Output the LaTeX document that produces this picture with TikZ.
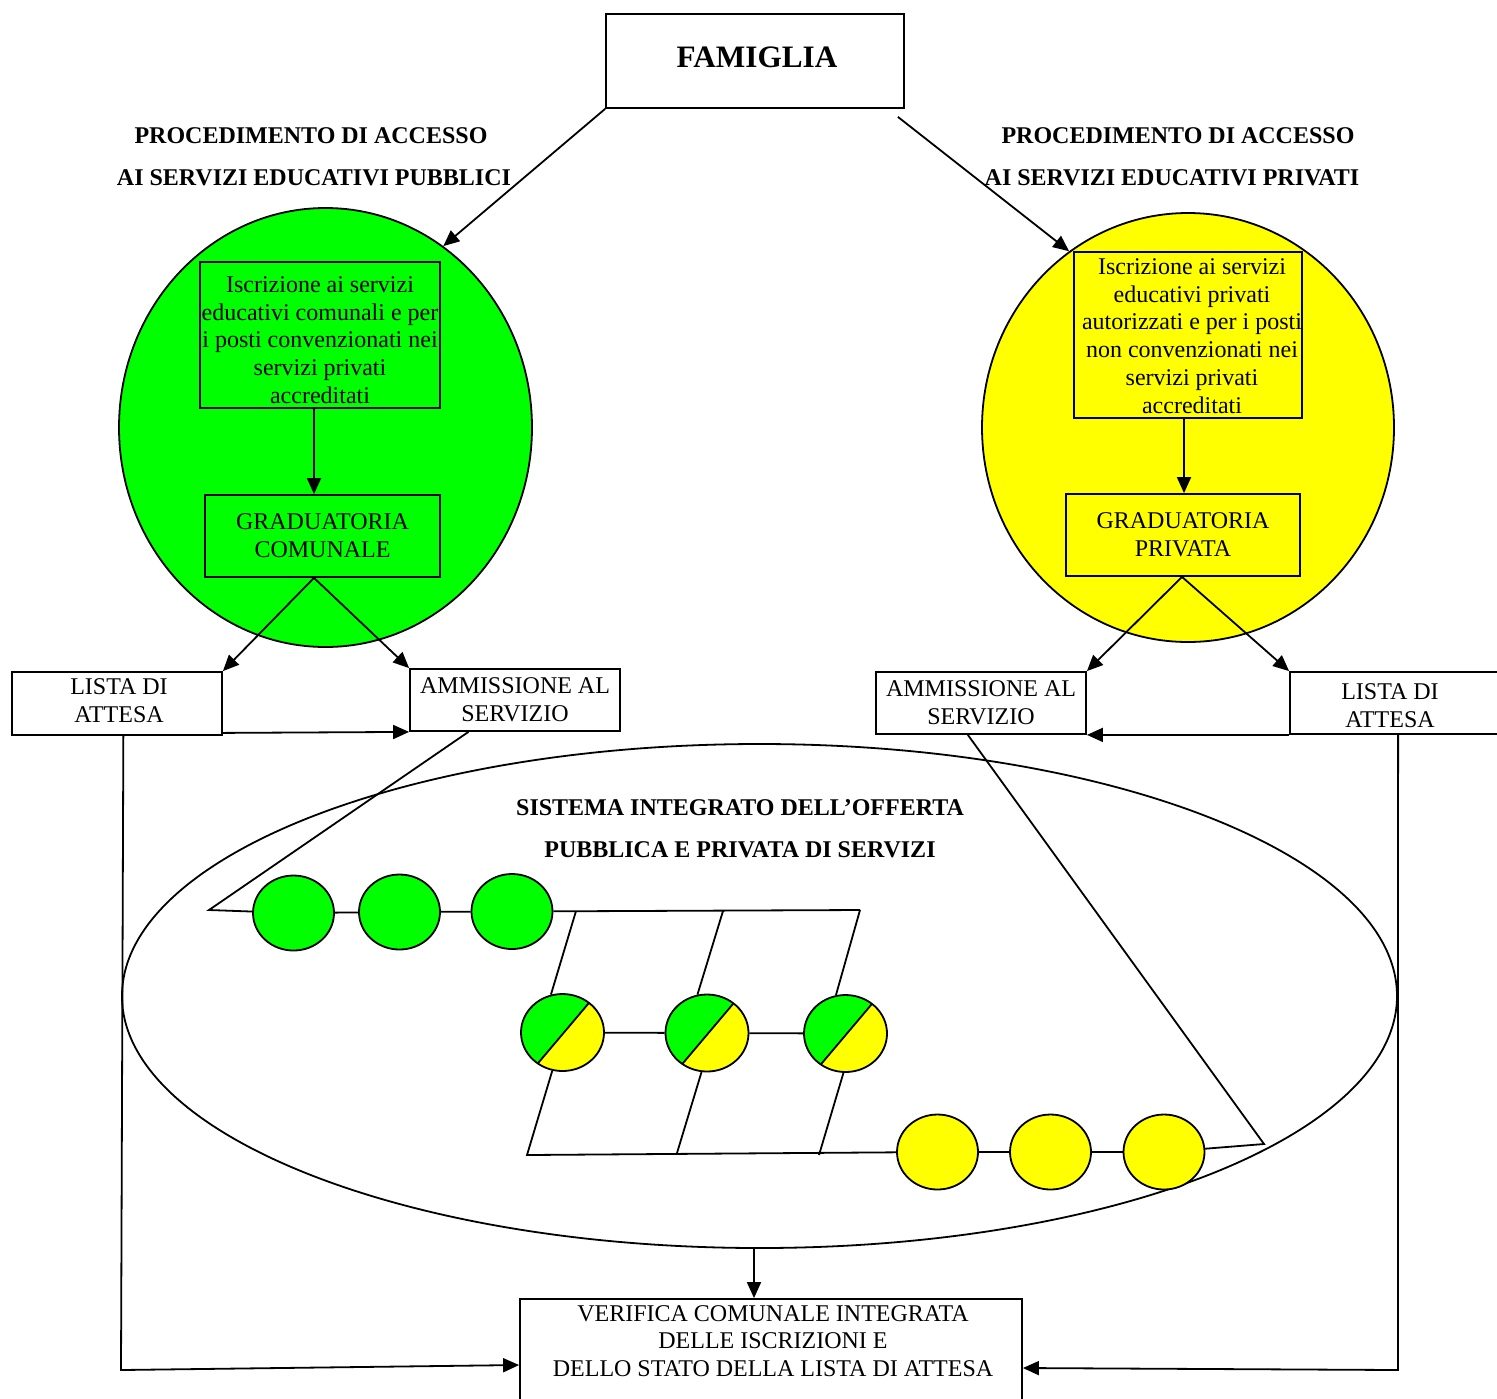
\documentclass[tikz,border=0pt]{standalone}
\usepackage{fontspec}
\setmainfont{Liberation Serif}
\usetikzlibrary{arrows.meta,shapes.geometric,calc}
\definecolor{pgreen}{RGB}{0,255,0}
\definecolor{pyellow}{RGB}{255,255,0}
\begin{document}
\begin{tikzpicture}[x=0.5pt,y=-0.5pt,line width=0.9pt,
  box/.style={draw,rectangle,inner sep=0pt,align=center,font=\fontsize{12pt}{13.9pt}\selectfont},
  txt/.style={inner sep=0pt,align=center,font=\fontsize{12pt}{13.9pt}\selectfont},
  btxt/.style={inner sep=0pt,font=\fontsize{12pt}{14pt}\selectfont\bfseries},
  arr/.style={-{Triangle[length=8pt,width=7pt]}},
  disc/.style={draw,ellipse,inner sep=0pt,minimum width=40.5pt,minimum height=37.5pt},
  bi/.style={draw,ellipse,inner sep=0pt,minimum width=41.5pt,minimum height=38.5pt,fill=pyellow,
    path picture={
      \fill[pgreen] ($(path picture bounding box.center)+(-57.8,70.1)$) -- ($(path picture bounding box.center)+(59.8,-69.1)$) -- ($(path picture bounding box.center)+(-100,-69.1)$) -- ($(path picture bounding box.center)+(-100,70.1)$) -- cycle;
      \draw ($(path picture bounding box.center)+(-57.8,70.1)$) -- ($(path picture bounding box.center)+(59.8,-69.1)$);
    }}]
\useasboundingbox (0,0) rectangle (1497,1398);

% large shapes
\node[draw,ellipse,fill=pgreen,minimum width=206.5pt,minimum height=219.5pt,inner sep=0pt] (gc) at (325.5,427.5) {};
\node[draw,ellipse,fill=pyellow,minimum width=206pt,minimum height=214.5pt,inner sep=0pt] (yc) at (1188,427.5) {};
\node[draw,ellipse,minimum width=637.5pt,minimum height=252pt,inner sep=0pt] (bigE) at (759.5,996) {};

% top
\node[box,minimum width=149pt,minimum height=47pt] (fam) at (755,61) {};
\node[inner sep=0pt,font=\fontsize{15.6pt}{18pt}\selectfont\bfseries] (famt) at (757,57) {FAMIGLIA};
\node[btxt] (hL1) at (311,136) {PROCEDIMENTO DI ACCESSO};
\node[btxt] (hL2) at (314,178) {AI SERVIZI EDUCATIVI PUBBLICI};
\node[btxt] (hR1) at (1178,136) {PROCEDIMENTO DI ACCESSO};
\node[btxt] (hR2) at (1172,178) {AI SERVIZI EDUCATIVI PRIVATI};

% left side
\node[box,fill=pgreen,minimum width=120pt,minimum height=73pt] (gbox1) at (320,335) {};
\node[txt] (gbox1t) at (320,340) {Iscrizione ai servizi\\educativi comunali e per\\i posti convenzionati nei\\servizi privati\\accreditati};
\node[box,fill=pgreen,minimum width=117.5pt,minimum height=41pt] (gbox2) at (322.5,536) {GRADUATORIA\\COMUNALE};
\node[box,minimum width=105pt,minimum height=31.5pt] (listL) at (117,703.5) {};
\node[txt] (listLt) at (119,701) {LISTA DI\\ATTESA};
\node[box,minimum width=105pt,minimum height=31pt] (ammL) at (515,700) {AMMISSIONE AL\\SERVIZIO};

% right side
\node[box,fill=pyellow,minimum width=114pt,minimum height=83pt] (ybox1) at (1188,335) {};
\node[txt] (ybox1t) at (1192,336) {Iscrizione ai servizi\\educativi privati\\autorizzati e per i posti\\non convenzionati nei\\servizi privati\\accreditati};
\node[box,fill=pyellow,minimum width=117pt,minimum height=41pt] (ybox2) at (1183,535) {GRADUATORIA\\PRIVATA};
\node[box,minimum width=105pt,minimum height=31pt] (ammR) at (981,703) {AMMISSIONE AL\\SERVIZIO};
\node[box,minimum width=107pt,minimum height=31pt] (listR) at (1397,703) {};
\node[txt] (listRt) at (1390,706) {LISTA DI\\ATTESA};

% bottom
\node[box,minimum width=251pt,minimum height=55.5pt] (verif) at (771,1354.5) {};
\node[txt] (veriftxt) at (773,1341) {VERIFICA COMUNALE INTEGRATA\\DELLE ISCRIZIONI E\\DELLO STATO DELLA LISTA DI ATTESA};

% system title
\node[btxt] (s1) at (740,808) {SISTEMA INTEGRATO DELL’OFFERTA};
\node[btxt] (s2) at (740,850) {PUBBLICA E PRIVATA DI SERVIZI};

% discs
\node[disc,fill=pgreen] (g1) at (293.5,913) {};
\node[disc,fill=pgreen] (g2) at (399.5,912) {};
\node[disc,fill=pgreen] (g3) at (512,911.5) {};
\node[bi] (b1) at (562.5,1032.5) {};
\node[bi] (b2) at (707,1033) {};
\node[bi] (b3) at (845.5,1033.5) {};
\node[disc,fill=pyellow] (y1) at (937.5,1152) {};
\node[disc,fill=pyellow] (y2) at (1050.5,1152) {};
\node[disc,fill=pyellow] (y3) at (1164,1152) {};

% coordinates
\coordinate (famR) at ($(fam.south east)+(-7,8)$);
\coordinate (pL) at (209,910);
\coordinate (t1) at (576,911);
\coordinate (t2) at (723,911);
\coordinate (tR) at (860,910);
\coordinate (bl) at (527,1155);
\coordinate (m2) at (677,1153);
\coordinate (m3) at (819,1155);
\coordinate (yR) at (1264,1144);
\coordinate (cL) at (121,1370);
\coordinate (cR) at (1398,1370);

% connectors
\draw[arr] (fam.south west) -- (gc.57);
\draw[arr] (famR) -- (yc.124);
\draw[arr] ([xshift=-3pt]gbox1.south) -- ([xshift=-4.25pt]gbox2.north);
\draw[arr] ([xshift=-4.25pt]gbox2.south) -- (listL.north east);
\draw[arr] ([xshift=-4.25pt]gbox2.south) -- (ammL.north west);
\draw[arr] ([yshift=1.5pt]listL.south east) -- (ammL.south west);
\draw[arr] ([xshift=-2pt]ybox1.south) -- ([xshift=0.5pt]ybox2.north);
\draw[arr] ([xshift=-0.5pt]ybox2.south) -- (ammR.north east);
\draw[arr] ([xshift=-0.5pt]ybox2.south) -- (listR.north west);
\draw[arr] (listR.south west) -- (ammR.south east);

\draw ($(ammL.south west)!0.28!(ammL.south east)$) -- (pL) -- (g1);
\draw (g1) -- (g2);
\draw (g2) -- (g3);
\draw (g3) -- (tR);
\draw (t1) -- (b1.107);
\draw (t2) -- (b2.104);
\draw (tR) -- (b3.104);
\draw (b1) -- (b2);
\draw (b2) -- (b3);
\draw (b1.255) -- (bl) -- (y1);
\draw (b2.262) -- (m2);
\draw (b3.267) -- (m3);
\draw (y1) -- (y2);
\draw (y2) -- (y3);
\draw (y3) -- (yR) -- ($(ammR.south west)!0.438!(ammR.south east)$);

\draw[arr] ($(listL.south west)!0.53!(listL.south east)$) -- (cL) -- ([yshift=-5.25pt]verif.west);
\draw[arr] ($(listR.south west)!0.505!(listR.south east)$) -- (cR) -- ([yshift=-6.75pt]verif.east);
\draw[arr] ([xshift=-2.75pt]bigE.south) -- ([xshift=-8.5pt]verif.north);
\end{tikzpicture}
\end{document}
